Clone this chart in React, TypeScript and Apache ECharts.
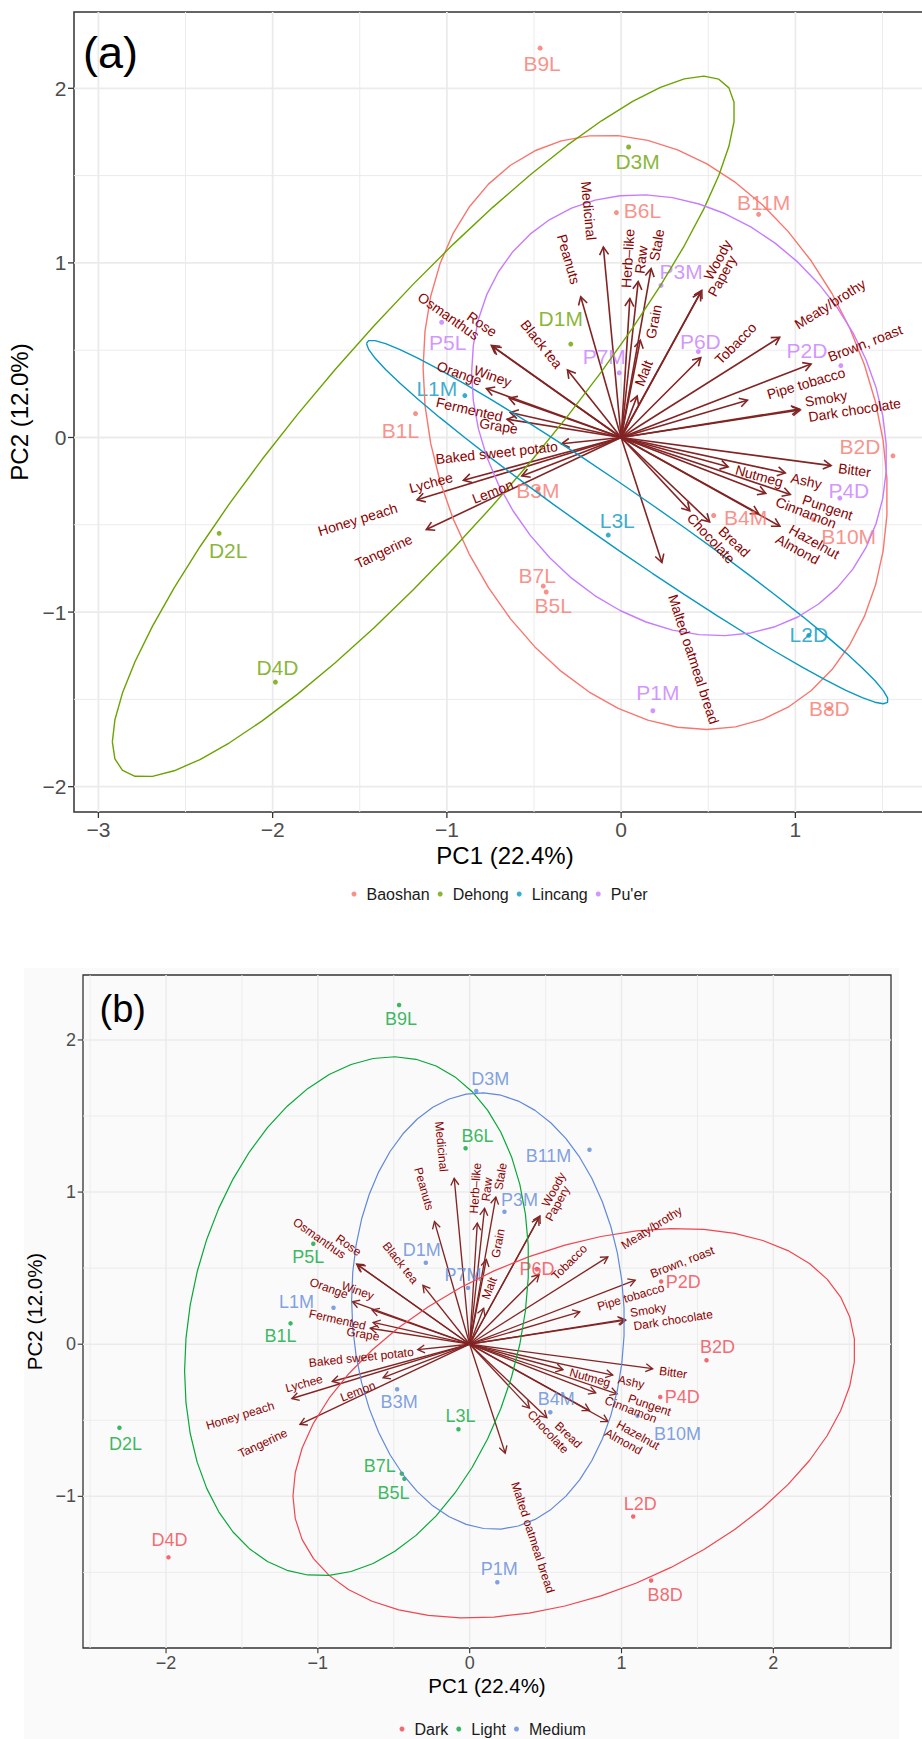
import React, { useEffect, useRef } from "react";
import * as echarts from "echarts";

// ---------- data ----------
const SAMPLES = ["B1L", "B2D", "B3M", "B4M", "B5L", "B6L", "B7L", "B8D", "B9L", "B10M", "B11M", "D1M", "D2L", "D3M", "D4D", "L1M", "L2D", "L3L", "P1M", "P2D", "P3M", "P4D", "P5L", "P6D", "P7M"];
const PC1_SCORE = [-1.18, 1.56, -0.478, 0.531, -0.43, -0.027, -0.447, 1.195, -0.465, 1.105, 0.789, -0.289, -2.307, 0.043, -1.984, -0.897, 1.077, -0.074, 0.182, 1.261, 0.229, 1.255, -1.03, 0.443, -0.011];
const PC2_SCORE = [0.137, -0.105, -0.296, -0.447, -0.885, 1.288, -0.851, -1.553, 2.23, -0.471, 1.278, 0.535, -0.549, 1.664, -1.401, 0.24, -1.133, -0.559, -1.565, 0.412, 0.871, -0.347, 0.66, 0.492, 0.37];
const ORIGIN_OF = ["Baoshan", "Baoshan", "Baoshan", "Baoshan", "Baoshan", "Baoshan", "Baoshan", "Baoshan", "Baoshan", "Baoshan", "Baoshan", "Dehong", "Dehong", "Dehong", "Dehong", "Lincang", "Lincang", "Lincang", "Pu'er", "Pu'er", "Pu'er", "Pu'er", "Pu'er", "Pu'er", "Pu'er"];
const COLOUR_OF = ["Light", "Dark", "Medium", "Medium", "Light", "Light", "Light", "Dark", "Light", "Medium", "Medium", "Medium", "Light", "Medium", "Dark", "Medium", "Dark", "Light", "Medium", "Dark", "Medium", "Dark", "Light", "Dark", "Medium"];

const ORIGINS = ["Baoshan", "Dehong", "Lincang", "Pu'er"];
const COLOURS = ["Dark", "Light", "Medium"];

const VARIABLES = ["Medicinal", "Peanuts", "Herb\u2013like", "Raw", "Stale", "Grain", "Malt", "Woody", "Papery", "Tobacco", "Meaty/brothy", "Brown, roast", "Pipe tobacco", "Smoky", "Dark chocolate", "Bitter", "Nutmeg", "Ashy", "Pungent", "Cinnamon", "Hazelnut", "Almond", "Bread", "Chocolate", "Malted oatmeal bread", "Lemon", "Lychee", "Honey peach", "Tangerine", "Baked sweet potato", "Grape", "Fermented", "Orange", "Winey", "Rose", "Osmanthus", "Black tea"];
const LOAD_PC1 = [-0.102, -0.232, 0.05, 0.098, 0.172, 0.11, 0.092, 0.463, 0.455, 0.457, 0.91, 1.09, 0.725, 1.022, 1.028, 1.205, 0.614, 0.942, 0.971, 0.83, 0.911, 0.789, 0.508, 0.394, 0.234, -0.57, -0.905, -1.171, -1.118, -0.342, -0.655, -0.636, -0.773, -0.643, -0.736, -0.745, -0.308];
const LOAD_PC2 = [1.091, 0.806, 0.796, 0.893, 0.967, 0.557, 0.237, 0.843, 0.83, 0.457, 0.574, 0.421, 0.213, 0.163, 0.158, -0.161, -0.168, -0.203, -0.326, -0.32, -0.508, -0.436, -0.483, -0.42, -0.716, -0.22, -0.245, -0.357, -0.527, -0.036, 0.105, 0.143, 0.28, 0.226, 0.52, 0.527, 0.387];

const X_MAJOR_A = [-3, -2, -1, 0, 1];
const X_MINOR_A = [-2.5, -1.5, -0.5, 0.5, 1.5];
const Y_MAJOR_A = [-2, -1, 0, 1, 2];
const Y_MINOR_A = [-1.5, -0.5, 0.5, 1.5];
const X_MAJOR_B = [-2, -1, 0, 1, 2];
const X_MINOR_B = [-2.5, -1.5, -0.5, 0.5, 1.5, 2.5];
const Y_MAJOR_B = [-1, 0, 1, 2];
const Y_MINOR_B = [-1.5, -0.5, 0.5, 1.5];

const ELLIPSE_PROB = 0.68;
const ELLIPSE_STEPS = 50;

// ---------- styles / label placement ----------
const FONT = '"Liberation Sans", Arial, Helvetica, sans-serif';
const ORIGIN_PALETTE = ["#F8766D", "#6BA300", "#0A98BF", "#C77CFF"];
const COLOUR_PALETTE = ["#F2454F", "#07A838", "#6189D9"];
const ARROW_COLOUR = "#832424";
const VARNAME_COLOUR = "#8B0000";

// point-label offsets in px (panel a / panel b)
const LABEL_OFFSET_A: Record<string, number[]> = {
  B1L: [-15, 17], B2D: [-33, -9], B3M: [0, 1], B4M: [32, 2], B5L: [7, 13], B6L: [26, -2], B7L: [-6, -11], B8D: [0, 0], B9L: [2, 15], B10M: [35, 17], B11M: [5, -12],
  D1M: [-10, -26], D2L: [9, 17], D3M: [9, 15], D4D: [2, -15], L1M: [-28, -7], L2D: [0, -1], L3L: [9, -15],
  P1M: [5, -18], P2D: [-34, -15], P3M: [20, -14], P4D: [9, -8], P5L: [6, 20], P6D: [2, -10], P7M: [-15, -16],
};
const LABEL_OFFSET_B: Record<string, number[]> = {
  B1L: [-10, 13], B2D: [11, -13], B3M: [2, 13], B4M: [6, -13], B5L: [-11, 14], B6L: [12, -12], B7L: [-22, -8], B8D: [14, 15], B9L: [2, 14], B10M: [40, 18], B11M: [-41, 6],
  D1M: [-4, -13], D2L: [6, 16], D3M: [14, -12], D4D: [1, -17], L1M: [-37, -6], L2D: [7, -13], L3L: [2, -13],
  P1M: [2, -13], P2D: [22, 0], P3M: [15, -12], P4D: [22, 0], P5L: [-5, 13], P6D: [0, 0], P7M: [-5, -13],
};
// variable-name nudges (label centre minus arrow tip, in axis units)
const VAR_NUDGE: Record<string, number[]> = {
  "Medicinal": [-0.084, 0.208], "Peanuts": [-0.069, 0.215], "Herb\u2013like": [-0.012, 0.23], "Raw": [0.016, 0.124], "Stale": [0.032, 0.136],
  "Grain": [0.077, 0.106], "Malt": [0.037, 0.131], "Woody": [0.091, 0.174], "Papery": [0.124, 0.095], "Tobacco": [0.2, 0.082],
  "Meaty/brothy": [0.289, 0.191], "Brown, roast": [0.31, 0.119], "Pipe tobacco": [0.336, 0.097], "Smoky": [0.154, 0.061], "Dark chocolate": [0.312, 0.0],
  "Bitter": [0.135, -0.026], "Nutmeg": [0.179, -0.052], "Ashy": [0.121, -0.046], "Pungent": [0.214, -0.074], "Cinnamon": [0.231, -0.11],
  "Hazelnut": [0.198, -0.089], "Almond": [0.224, -0.204], "Bread": [0.142, -0.114], "Chocolate": [0.122, -0.157], "Malted oatmeal bread": [0.182, -0.554],
  "Lemon": [-0.167, -0.09], "Lychee": [-0.186, -0.014], "Honey peach": [-0.341, -0.112], "Tangerine": [-0.245, -0.124], "Baked sweet potato": [-0.372, -0.051],
  "Grape": [-0.048, -0.039], "Fermented": [-0.235, 0.018], "Orange": [-0.155, 0.088], "Winey": [-0.094, 0.126], "Rose": [-0.062, 0.13],
  "Osmanthus": [-0.245, 0.169], "Black tea": [-0.148, 0.148],
};

type Panel = {
  idx: number; pointFont: number; varFont: number; head: number; arrowW: number; ellW: number; dot: number;
  tickLen: number; tickW: number; majorW: number; minorW: number;
};
const PANEL_A: Panel = { idx: 0, pointFont: 21, varFont: 14, head: 9, arrowW: 1.6, ellW: 1.4, dot: 5, tickLen: 6, tickW: 1.3, majorW: 1.8, minorW: 1 };
const PANEL_B: Panel = { idx: 1, pointFont: 18, varFont: 12, head: 8, arrowW: 1.35, ellW: 1.2, dot: 4.5, tickLen: 5.3, tickW: 1.1, majorW: 1.5, minorW: 0.9 };

function ellipsePoints(xs: number[], ys: number[]): number[][] {
  const n = xs.length;
  const mx = xs.reduce((a, b) => a + b, 0) / n;
  const my = ys.reduce((a, b) => a + b, 0) / n;
  let sxx = 0, syy = 0, sxy = 0;
  for (let i = 0; i < n; i++) {
    const dx = xs[i] - mx, dy = ys[i] - my;
    sxx += dx * dx; syy += dy * dy; sxy += dx * dy;
  }
  sxx /= n - 1; syy /= n - 1; sxy /= n - 1;
  const u11 = Math.sqrt(sxx);
  const u12 = sxy / u11;
  const u22 = Math.sqrt(Math.max(syy - u12 * u12, 0));
  const ed = Math.sqrt(-2 * Math.log(1 - ELLIPSE_PROB));
  const pts: number[][] = [];
  for (let k = 0; k < ELLIPSE_STEPS; k++) {
    const th = -Math.PI + (2 * Math.PI * k) / (ELLIPSE_STEPS - 1);
    const c = Math.cos(th), s = Math.sin(th);
    pts.push([mx + ed * c * u11, my + ed * (c * u12 + s * u22)]);
  }
  return pts;
}

function gridSeries(p: Panel, xMaj: number[], xMin: number[], yMaj: number[], yMin: number[]) {
  const data = [
    ...xMin.map((v) => [v, 0, 0]), ...yMin.map((v) => [v, 1, 0]),
    ...xMaj.map((v) => [v, 0, 1]), ...yMaj.map((v) => [v, 1, 1]),
  ];
  return {
    type: "custom", xAxisIndex: p.idx, yAxisIndex: p.idx, z: 1, silent: true, clip: false,
    encode: { x: 0, y: 1 },
    data,
    renderItem: (params: any, api: any) => {
      const cs = params.coordSys;
      const v = api.value(0), dir = api.value(1), major = api.value(2) === 1;
      const style = { stroke: "#EBEBEB", lineWidth: major ? p.majorW : p.minorW };
      const tick = { stroke: "#333333", lineWidth: p.tickW };
      const children: any[] = [];
      if (dir === 0) {
        const px = api.coord([v, 0])[0];
        children.push({ type: "line", shape: { x1: px, y1: cs.y, x2: px, y2: cs.y + cs.height }, style });
        if (major) children.push({ type: "line", shape: { x1: px, y1: cs.y + cs.height, x2: px, y2: cs.y + cs.height + p.tickLen }, style: tick });
      } else {
        const py = api.coord([0, v])[1];
        children.push({ type: "line", shape: { x1: cs.x, y1: py, x2: cs.x + cs.width, y2: py }, style });
        if (major) children.push({ type: "line", shape: { x1: cs.x - p.tickLen, y1: py, x2: cs.x, y2: py }, style: tick });
      }
      return { type: "group", children };
    },
  };
}

function arrowSeries(p: Panel) {
  return {
    type: "custom", xAxisIndex: p.idx, yAxisIndex: p.idx, z: 2, silent: true, clip: false,
    encode: { x: 0, y: 1 },
    data: VARIABLES.map((_, i) => [LOAD_PC1[i], LOAD_PC2[i], i]),
    renderItem: (params: any, api: any) => {
      const o = api.coord([0, 0]);
      const t = api.coord([api.value(0), api.value(1)]);
      const dx = t[0] - o[0], dy = t[1] - o[1];
      const L = Math.hypot(dx, dy);
      const bx = -dx / L, by = -dy / L;
      const a = Math.PI / 6, ca = Math.cos(a), sa = Math.sin(a);
      const p1 = [t[0] + p.head * (bx * ca - by * sa), t[1] + p.head * (bx * sa + by * ca)];
      const p2 = [t[0] + p.head * (bx * ca + by * sa), t[1] + p.head * (-bx * sa + by * ca)];
      const style = { stroke: ARROW_COLOUR, lineWidth: p.arrowW, fill: null };
      return {
        type: "group",
        children: [
          { type: "line", shape: { x1: o[0], y1: o[1], x2: t[0], y2: t[1] }, style },
          { type: "polyline", shape: { points: [p1, t, p2] }, style },
        ],
      };
    },
  };
}

function varLabelSeries(p: Panel) {
  return {
    type: "custom", xAxisIndex: p.idx, yAxisIndex: p.idx, z: 6, silent: true, clip: false,
    encode: { x: 0, y: 1 },
    data: VARIABLES.map((_, i) => [LOAD_PC1[i], LOAD_PC2[i], i]),
    renderItem: (params: any, api: any) => {
      const x = api.value(0), y = api.value(1);
      const name = VARIABLES[api.value(2)];
      const o = api.coord([0, 0]);
      const t = api.coord([x, y]);
      let rot = Math.atan2(-(t[1] - o[1]), t[0] - o[0]);
      if (rot > Math.PI / 2) rot -= Math.PI;
      if (rot < -Math.PI / 2) rot += Math.PI;
      const nud = VAR_NUDGE[name] || [0, 0];
      const c = api.coord([x + nud[0], y + nud[1]]);
      return {
        type: "text", x: c[0], y: c[1], rotation: rot,
        style: { text: name, fill: VARNAME_COLOUR, fontSize: p.varFont, fontFamily: FONT, align: "center", verticalAlign: "middle" },
      };
    },
  };
}

function groupSeries(p: Panel, groups: string[], palette: string[], groupOf: string[], offsets: Record<string, number[]>) {
  const out: any[] = [];
  groups.forEach((g, gi) => {
    const idxs = SAMPLES.map((_, i) => i).filter((i) => groupOf[i] === g);
    out.push({
      type: "scatter", name: g, xAxisIndex: p.idx, yAxisIndex: p.idx, z: 3, silent: true,
      symbol: "circle", symbolSize: p.dot, itemStyle: { color: palette[gi] },
      label: {
        show: true, position: "inside", formatter: "{b}", color: palette[gi], fontSize: p.pointFont, fontFamily: FONT,
        align: "center", verticalAlign: "middle", textBorderWidth: 0,
      },
      data: idxs.map((i) => ({ name: SAMPLES[i], value: [PC1_SCORE[i], PC2_SCORE[i]], label: { offset: offsets[SAMPLES[i]] } })),
    });
    out.push({
      type: "line", name: g + " ellipse", xAxisIndex: p.idx, yAxisIndex: p.idx, z: 4, silent: true,
      showSymbol: false, symbol: "none", smooth: false,
      lineStyle: { color: palette[gi], width: p.ellW },
      data: ellipsePoints(idxs.map((i) => PC1_SCORE[i]), idxs.map((i) => PC2_SCORE[i])),
    });
  });
  return out;
}

const tickFmt = (v: number) => {
  const r = Math.round(v);
  if (Math.abs(v - r) > 1e-6) return "";
  return r < 0 ? "\u2212" + -r : String(r);
};

function axis(gridIndex: number, min: number, max: number, fontSize: number, margin: number, name: string, nameSize: number, nameGap: number, isX: boolean) {
  return {
    type: "value", gridIndex, min, max, splitNumber: 5,
    splitLine: { show: false }, axisTick: { show: false }, axisLine: { show: false, onZero: false },
    axisLabel: {
      formatter: tickFmt, fontSize, color: "#4D4D4D", fontFamily: FONT, margin,
      ...(isX ? { verticalAlign: "middle" } : {}),
    },
    name, nameLocation: "middle", nameGap,
    nameTextStyle: { fontSize: nameSize, color: "#000000", fontFamily: FONT },
  };
}

function legend(names: string[], left: number, top: number) {
  return {
    data: names, left, top, padding: 0, orient: "horizontal", icon: "circle",
    itemWidth: 5, itemHeight: 5, itemGap: 8, selectedMode: false,
    textStyle: { fontSize: 16, color: "#1A1A1A", fontFamily: FONT, padding: [0, 0, 0, 5] },
  };
}

function buildOption() {
  return {
    animation: false,
    textStyle: { fontFamily: FONT },
    grid: [
      { left: 74, top: 12, width: 862, height: 800, show: true, backgroundColor: "#FFFFFF", borderColor: "#333333", borderWidth: 1.5, containLabel: false, outerBoundsMode: "none" },
      { left: 83, top: 975, width: 808, height: 673, show: true, backgroundColor: "#FAFAFA", borderColor: "#333333", borderWidth: 1.3, containLabel: false, outerBoundsMode: "none" },
    ],
    xAxis: [
      axis(0, -3.14, 1.807, 21, 17, "PC1 (22.4%)", 24, 31, true),
      axis(1, -2.547, 2.775, 18, 14.5, "PC1 (22.4%)", 20.5, 27, true),
    ],
    yAxis: [
      axis(0, -2.145, 2.437, 21, 7.5, "PC2 (12.0%)", 24, 38, false),
      axis(1, -1.997, 2.427, 18, 7, "PC2 (12.0%)", 20.5, 33, false),
    ],
    legend: [legend(ORIGINS, 351.5, 886), legend(COLOURS, 399.5, 1721)],
    graphic: [
      { type: "rect", z: -10, silent: true, shape: { x: 24, y: 968, width: 875, height: 771 }, style: { fill: "#FAFAFA" } },
      { type: "text", z: 10, silent: true, x: 110.5, y: 52.5, style: { text: "(a)", fontSize: 45, fontFamily: FONT, fill: "#000000", align: "center", verticalAlign: "middle" } },
      { type: "text", z: 10, silent: true, x: 122.7, y: 1009, style: { text: "(b)", fontSize: 38, fontFamily: FONT, fill: "#000000", align: "center", verticalAlign: "middle" } },
    ],
    series: [
      gridSeries(PANEL_A, X_MAJOR_A, X_MINOR_A, Y_MAJOR_A, Y_MINOR_A),
      arrowSeries(PANEL_A),
      ...groupSeries(PANEL_A, ORIGINS, ORIGIN_PALETTE, ORIGIN_OF, LABEL_OFFSET_A),
      varLabelSeries(PANEL_A),
      gridSeries(PANEL_B, X_MAJOR_B, X_MINOR_B, Y_MAJOR_B, Y_MINOR_B),
      arrowSeries(PANEL_B),
      ...groupSeries(PANEL_B, COLOURS, COLOUR_PALETTE, COLOUR_OF, LABEL_OFFSET_B),
      varLabelSeries(PANEL_B),
    ],
  };
}

export default function App() {
  const ref = useRef<HTMLDivElement>(null);
  useEffect(() => {
    if (!ref.current) return;
    const chart = echarts.init(ref.current, undefined, { renderer: "svg" });
    chart.setOption(buildOption() as any);
    return () => chart.dispose();
  }, []);
  return (
    <div
      ref={ref}
      style={{ position: "absolute", left: 0, top: 0, width: 922, height: 1739, background: "#FFFFFF", overflow: "hidden" }}
    />
  );
}
